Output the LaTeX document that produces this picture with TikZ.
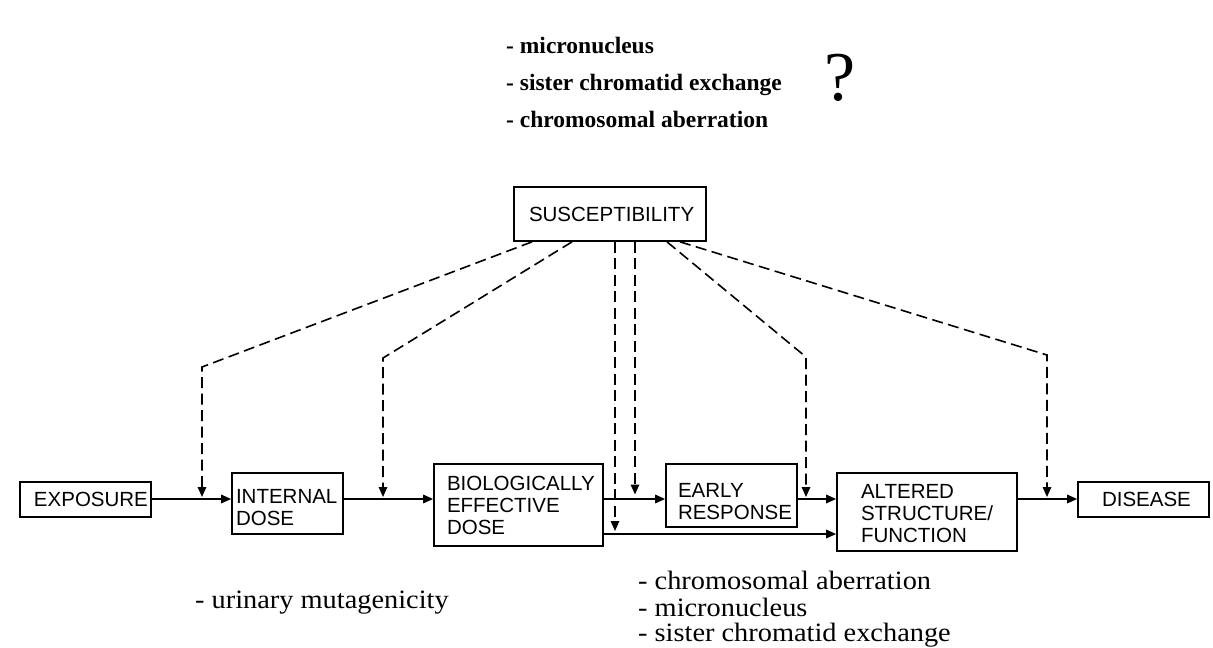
\documentclass[tikz,border=0pt]{standalone}
\usepackage{fontspec}
\setmainfont{Liberation Serif}
\newfontfamily\boxfont{Liberation Sans}
\newfontfamily\botfont[FakeStretch=1.07]{Liberation Serif}
\usetikzlibrary{arrows.meta}
\begin{document}
\begin{tikzpicture}[x=1pt,y=-1pt,
  box/.style={draw, line width=1.7pt, rectangle, align=left, inner ysep=0pt,
    font=\boxfont\fontsize{20.5}{22}\selectfont},
  arr/.style={-{Triangle[length=10pt,width=8.5pt]}, line width=1.6pt},
  dsh/.style={arr, dash pattern=on 11pt off 5.5pt},
  toptxt/.style={inner sep=0pt, anchor=base west, font=\bfseries\fontsize{23.5}{28}\selectfont},
  bottxt/.style={inner sep=0pt, anchor=base west, font=\botfont\fontsize{26.5}{30}\selectfont}]
\useasboundingbox (0,0) rectangle (1213,648);

% boxes
\node[box, minimum height=35pt, text width=103pt, inner xsep=14pt] (exposure) at (85.5,499.5) {EXPOSURE};
\node[box, minimum height=61pt, text width=103pt, inner xsep=4pt] (internal) at (287.5,503.5) {\rule{0pt}{21.7pt}INTERNAL\\DOSE};
\node[box, minimum height=82pt, text width=143pt, inner xsep=13pt] (bel) at (518.5,505) {BIOLOGICALLY\\EFFECTIVE\\DOSE};
\node[box, minimum height=63pt, text width=107pt, inner xsep=12pt] (early) at (731.5,495.5) {\rule{0pt}{26.7pt}EARLY\\RESPONSE};
\node[box, minimum height=78pt, text width=132pt, inner xsep=24pt] (altered) at (927,512) {\rule{0pt}{18pt}ALTERED\\STRUCTURE/\\FUNCTION};
\node[box, minimum height=35pt, text width=83pt, inner xsep=24pt] (disease) at (1143.5,499.5) {DISEASE};
\node[box, minimum height=54pt, text width=162pt, inner xsep=15pt] (sus) at (610,214) {SUSCEPTIBILITY};

% levels
\coordinate (yA) at (0,499);
\coordinate (yB) at (0,534);

% main flow
\draw[arr] (exposure.east |- yA) -- (internal.west |- yA);
\draw[arr] (internal.east |- yA) -- (bel.west |- yA);
\draw[arr] (bel.east |- yA) -- (early.west |- yA);
\draw[arr] (early.east |- yA) -- (altered.west |- yA);
\draw[arr] (altered.east |- yA) -- (disease.west |- yA);
\draw[arr] (bel.east |- yB) -- (altered.west |- yB);

% susceptibility influences
\coordinate (c1) at (202,367);
\coordinate (c2) at (383,358);
\coordinate (c3) at (806,357);
\coordinate (c4) at (1047,355);
\draw[dsh, shorten >=2pt] ([xshift=-78pt]sus.south) -- (c1) -- (c1 |- yA);
\draw[dsh, shorten >=2pt] ([xshift=-38pt]sus.south) -- (c2) -- (c2 |- yA);
\draw[dsh, shorten >=3pt] ([xshift=5pt]sus.south) -- ([xshift=5pt]sus.south |- yB);
\draw[dsh, shorten >=4.5pt] ([xshift=25pt]sus.south) -- ([xshift=25pt]sus.south |- yA);
\draw[dsh, shorten >=2pt] ([xshift=57pt]sus.south) -- (c3) -- (c3 |- yA);
\draw[dsh, shorten >=2pt] ([xshift=70pt]sus.south) -- (c4) -- (c4 |- yA);

% texts
\node[toptxt] (t1) at (506,53) {- micronucleus};
\node[toptxt] (t2) at (506,90) {- sister chromatid exchange};
\node[toptxt] (t3) at (506,127) {- chromosomal aberration};
\node[inner sep=0pt, anchor=base, font=\fontsize{70}{80}\selectfont] (q) at (840,100) {?};

\node[bottxt] (u1) at (195,608) {- urinary mutagenicity};
\node[bottxt] (b1) at (638,589) {- chromosomal aberration};
\node[bottxt] (b2) at (638,616) {- micronucleus};
\node[bottxt] (b3) at (638,641.5) {- sister chromatid exchange};
\end{tikzpicture}
\end{document}
